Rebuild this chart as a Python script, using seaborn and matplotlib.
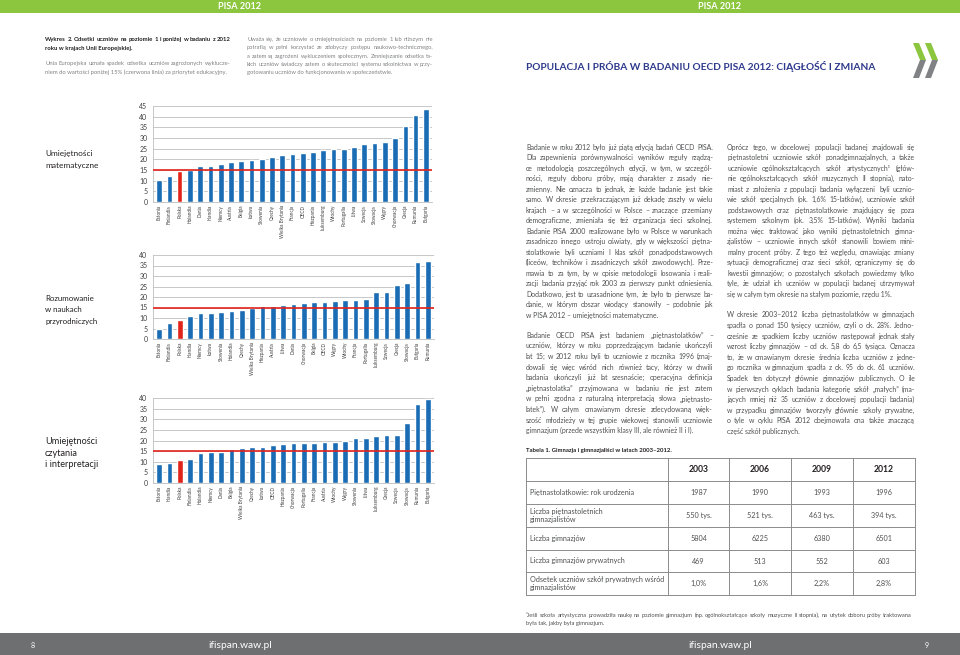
import matplotlib
matplotlib.use('Agg')
import matplotlib.pyplot as plt
import seaborn as sns
from matplotlib.patches import Rectangle, Polygon

# ---- data: share of students at level 1 and below (%) ----
math_countries = ['Estonia', 'Finlandia', 'Polska', 'Holandia', 'Dania', 'Irlandia', 'Niemcy',
                  'Austria', 'Belgia', 'Łotwa', 'Słowenia', 'Czechy', 'Wielka Brytania', 'Francja',
                  'OECD', 'Hiszpania', 'Luksemburg', 'Włochy', 'Portugalia', 'Litwa', 'Szwecja',
                  'Słowacja', 'Węgry', 'Chorwacja', 'Grecja', 'Rumunia', 'Bułgaria']
math_values = [10.5, 12.3, 14.4, 14.8, 16.9, 16.9, 17.7, 18.7, 19.0, 19.9, 20.1, 20.9, 21.8, 22.4,
               23.1, 23.6, 24.3, 24.7, 24.9, 26.0, 27.1, 27.5, 28.1, 29.9, 35.7, 40.8, 43.8]

science_countries = ['Estonia', 'Finlandia', 'Polska', 'Irlandia', 'Niemcy', 'Łotwa', 'Słowenia',
                     'Holandia', 'Czechy', 'Wielka Brytania', 'Hiszpania', 'Austria', 'Litwa', 'Dania',
                     'Chorwacja', 'Belgia', 'OECD', 'Węgry', 'Włochy', 'Francja', 'Portugalia',
                     'Luksemburg', 'Szwecja', 'Grecja', 'Słowacja', 'Bułgaria', 'Rumunia']
science_values = [5.0, 7.7, 9.0, 11.1, 12.2, 12.4, 12.9, 13.1, 13.8, 15.0, 15.7, 15.8, 16.1, 16.7,
                  17.3, 17.7, 17.8, 18.0, 18.7, 18.7, 19.0, 22.2, 22.2, 25.5, 26.7, 36.9, 37.3]

reading_countries = ['Estonia', 'Irlandia', 'Polska', 'Finlandia', 'Holandia', 'Niemcy', 'Dania',
                     'Belgia', 'Wielka Brytania', 'Czechy', 'Łotwa', 'OECD', 'Hiszpania', 'Chorwacja',
                     'Portugalia', 'Francja', 'Austria', 'Włochy', 'Węgry', 'Słowenia', 'Litwa',
                     'Luksemburg', 'Grecja', 'Szwecja', 'Słowacja', 'Rumunia', 'Bułgaria']
reading_values = [9.1, 9.6, 10.6, 11.3, 14.0, 14.5, 14.6, 16.1, 16.6, 16.9, 17.0, 18.0, 18.3, 18.7,
                  18.8, 18.9, 19.5, 19.5, 19.7, 21.1, 21.2, 22.2, 22.6, 22.7, 28.2, 37.3, 39.4]

target_level = 15

# ---- table 1 ----
table_years = ['2003', '2006', '2009', '2012']
table_rows = ['Piętnastolatkowie: rok urodzenia',
              'Liczba piętnastoletnich\ngimnazjalistów',
              'Liczba gimnazjów',
              'Liczba gimnazjów prywatnych',
              'Odsetek uczniów szkół prywatnych wśród\ngimnazjalistów']
table_values = [['1987', '1990', '1993', '1996'],
                ['550 tys.', '521 tys.', '463 tys.', '394 tys.'],
                ['5804', '6225', '6380', '6501'],
                ['469', '513', '552', '603'],
                ['1,0%', '1,6%', '2,2%', '2,8%']]

# ---- texts ----
chart_title = ['Wykres 2. Odsetki uczniów na poziomie 1 i poniżej w badaniu z 2012',
               'roku w krajach Unii Europejskiej.']
chart_note = ['Unia Europejska uznała spadek odsetka uczniów zagrożonych wyklucze-',
              'niem do wartości poniżej 15% (czerwona linia) za priorytet edukacyjny.']
chart_comment = ['Uważa się, że uczniowie o umiejętnościach na poziomie 1 lub niższym nie',
                 'potrafią w pełni korzystać ze zdobyczy postępu naukowo-technicznego,',
                 'a zatem są zagrożeni wykluczeniem społecznym. Zmniejszanie odsetka ta-',
                 'kich uczniów świadczy zatem o skuteczności systemu szkolnictwa w przy-',
                 'gotowaniu uczniów do funkcjonowania w społeczeństwie.']

col1_par1 = ['Badanie w roku 2012 było już piątą edycją badań OECD PISA.',
             'Dla zapewnienia porównywalności wyników reguły rządzą-',
             'ce metodologią poszczególnych edycji, w tym, w szczegól-',
             'ności, reguły doboru próby, mają charakter z zasady nie-',
             'zmienny. Nie oznacza to jednak, że każde badanie jest takie',
             'samo. W okresie przekraczającym już dekadę zaszły w wielu',
             'krajach – a w szczególności w Polsce – znaczące przemiany',
             'demograficzne, zmieniała się też organizacja sieci szkolnej.',
             'Badanie PISA 2000 realizowane było w Polsce w warunkach',
             'zasadniczo innego ustroju oświaty, gdy w większości piętna-',
             'stolatkowie byli uczniami I klas szkół ponadpodstawowych',
             '(liceów, techników i zasadniczych szkół zawodowych). Prze-',
             'mawia to za tym, by w opisie metodologii losowania i reali-',
             'zacji badania przyjąć rok 2003 za pierwszy punkt odniesienia.',
             'Dodatkowo, jest to uzasadnione tym, że było to pierwsze ba-',
             'danie, w którym obszar wiodący stanowiły – podobnie jak',
             'w PISA 2012 – umiejętności matematyczne.']
col1_par2 = ['Badanie OECD PISA jest badaniem „piętnastolatków” –',
             'uczniów, którzy w roku poprzedzającym badanie ukończyli',
             'lat 15; w 2012 roku byli to uczniowie z rocznika 1996 (znaj-',
             'dowali się więc wśród nich również tacy, którzy w chwili',
             'badania ukończyli już lat szesnaście; operacyjna definicja',
             '„piętnastolatka” przyjmowana w badaniu nie jest zatem',
             'w pełni zgodna z naturalną interpretacją słowa „piętnasto-',
             'latek”). W całym omawianym okresie zdecydowaną więk-',
             'szość młodzieży w tej grupie wiekowej stanowili uczniowie',
             'gimnazjum (przede wszystkim klasy III, ale również II i I).']
col2_par1 = ['Oprócz tego, w docelowej populacji badanej znajdowali się',
             'piętnastoletni uczniowie szkół ponadgimnazjalnych, a także',
             'uczniowie ogólnokształcących szkół artystycznych¹ (głów-',
             'nie ogólnokształcących szkół muzycznych II stopnia), nato-',
             'miast z założenia z populacji badania wyłączeni byli ucznio-',
             'wie szkół specjalnych (ok. 1,6% 15-latków), uczniowie szkół',
             'podstawowych oraz piętnastolatkowie znajdujący się poza',
             'systemem szkolnym (ok. 3,5% 15-latków). Wyniki badania',
             'można więc traktować jako wyniki piętnastoletnich gimna-',
             'zjalistów – uczniowie innych szkół stanowili bowiem mini-',
             'malny procent próby. Z tego też względu, omawiając zmiany',
             'sytuacji demograficznej oraz sieci szkół, ograniczymy się do',
             'kwestii gimnazjów; o pozostałych szkołach powiedzmy tylko',
             'tyle, że udział ich uczniów w populacji badanej utrzymywał',
             'się w całym tym okresie na stałym poziomie, rzędu 1%.']
col2_par2 = ['W okresie 2003–2012 liczba piętnastolatków w gimnazjach',
             'spadła o ponad 150 tysięcy uczniów, czyli o ok. 28%. Jedno-',
             'cześnie ze spadkiem liczby uczniów następował jednak stały',
             'wzrost liczby gimnazjów – od ok. 5,8 do 6,5 tysiąca. Oznacza',
             'to, że w omawianym okresie średnia liczba uczniów z jedne-',
             'go rocznika w gimnazjum spadła z ok. 95 do ok. 61 uczniów.',
             'Spadek ten dotyczył głównie gimnazjów publicznych. O ile',
             'w pierwszych cyklach badania kategorię szkół „małych” (ma-',
             'jących mniej niż 35 uczniów z docelowej populacji badania)',
             'w przypadku gimnazjów tworzyły głównie szkoły prywatne,',
             'o tyle w cyklu PISA 2012 obejmowała ona także znaczącą',
             'część szkół publicznych.']
footnote = ['¹Jeśli szkoła artystyczna prowadziła naukę na poziomie gimnazjum (np. ogólnokształcące '
            'szkoły muzyczne II stopnia), na użytek doboru próby traktowana',
            'była tak, jakby była gimnazjum.']

BLUE = '#1a6cb4'
RED = '#e2231a'
GREEN = '#8cc63f'
FOOT = '#6d6f71'
TEXT = '#4f5052'

sns.set_theme(style='white')
plt.rcParams['font.family'] = ['Lato', 'DejaVu Sans']

W, H = 960, 655
fig = plt.figure(figsize=(9.6, 6.55), dpi=100)
fig.patch.set_facecolor('white')
renderer = fig.canvas.get_renderer()

# background axes in pixel coordinates (origin top-left)
bg = fig.add_axes([0, 0, 1, 1], zorder=0)
bg.set_xlim(0, W)
bg.set_ylim(H, 0)
bg.axis('off')


def text_width(s, **kw):
    t = bg.text(0, 0, s, **kw)
    w = t.get_window_extent(renderer).width
    t.remove()
    return w


def fit_size(lines, width, **kw):
    # largest font size (from a 10 pt probe) at which every line fits into width
    widest = max(text_width(s, fontsize=10, **kw) for s in lines)
    return 10 * width / widest


def justify(x, y, lines, width, step, **kw):
    # y is the visual middle of the first line; words sit on a common baseline
    base = 0.5 * kw['fontsize']
    for i, line in enumerate(lines):
        yy = y + i * step + base
        words = line.split(' ')
        if i == len(lines) - 1 or len(words) == 1:
            bg.text(x, yy, line, va='baseline', ha='left', **kw)
            continue
        ws = [text_width(w, **kw) for w in words]
        gap = (width - sum(ws)) / (len(words) - 1)
        cx = x
        for w, wd in zip(words, ws):
            bg.text(cx, yy, w, va='baseline', ha='left', **kw)
            cx += wd + gap


# top green band and footer band
bg.add_patch(Rectangle((0, 0), W, 13, color=GREEN, lw=0))
bg.add_patch(Rectangle((0, 633), W, 22, color=FOOT, lw=0))
for cx in (240, 720):
    bg.text(cx, 6.5, 'PISA 2012', color='white', fontsize=6.6, fontweight='bold', ha='center', va='center')
    bg.text(cx, 645, 'ifispan.waw.pl', color='white', fontsize=7.4, ha='center', va='center')
bg.text(33, 645, '8', color='white', fontsize=5, ha='center', va='center')
bg.text(927, 645, '9', color='white', fontsize=5, ha='center', va='center')

# chart header texts
fs = fit_size(chart_title[:1], 186, fontweight='bold')
justify(45, 39.3, chart_title, 186, 8.4, fontsize=fs, fontweight='bold', color='#231f20')
fs = fit_size(chart_note, 186)
justify(45, 63.3, chart_note, 186, 8.4, fontsize=fs, color='#808285')
fs = fit_size(chart_comment, 186)
justify(247, 39, chart_comment, 186, 8.3, fontsize=fs, color='#808285')

title = 'POPULACJA I PRÓBA W BADANIU OECD PISA 2012: CIĄGŁOŚĆ I ZMIANA'
fs = fit_size([title], 346, fontweight='bold')
bg.text(526, 67, title, color='#2e3a8c', fontsize=fs, fontweight='bold', ha='left', va='center')

# OECD chevrons
for ox in (913, 925):
    bg.add_patch(Polygon([(ox, 43), (ox + 6, 43), (ox + 13, 60), (ox + 7, 60)], closed=True,
                         color=GREEN, lw=0))
    bg.add_patch(Polygon([(ox + 7, 60), (ox + 13, 60), (ox + 6, 78), (ox, 78)], closed=True,
                         color='#808285', lw=0))

# body text, justified in two columns
fs = min(fit_size(col1_par1 + col1_par2, 187), fit_size(col2_par1 + col2_par2, 188))
body = dict(fontsize=fs, color=TEXT)
justify(526, 147.3, col1_par1, 187, 10.5, **body)
justify(526, 335.3, col1_par2, 187, 10.6, **body)
justify(727, 147.3, col2_par1, 188, 10.5, **body)
justify(727, 315, col2_par2, 188, 10.6, **body)

cap = 'Tabela 1. Gimnazja i gimnazjaliści w latach 2003–2012.'
bg.text(526, 450.7, cap, fontsize=fit_size([cap], 147, fontweight='bold'),
        fontweight='bold', color='#231f20', va='center')

# table grid
col_x = [526, 668, 729, 791, 853, 915]
row_y = [458, 481, 504, 527, 550, 572, 595]
for x in col_x:
    bg.plot([x, x], [row_y[0], row_y[-1]], color='#8a8c8e', lw=0.7)
for y in row_y:
    bg.plot([col_x[0], col_x[-1]], [y, y], color='#8a8c8e', lw=0.7)
for j, yr in enumerate(table_years):
    bg.text((col_x[j + 1] + col_x[j + 2]) / 2, (row_y[0] + row_y[1]) / 2, yr, fontsize=6.2,
            fontweight='bold', color='#231f20', ha='center', va='center')
tfs = fit_size(['Odsetek uczniów szkół prywatnych wśród'], 134)
for i, label in enumerate(table_rows):
    yc = (row_y[i + 1] + row_y[i + 2]) / 2
    bg.text(530, yc, label, fontsize=tfs, color=TEXT, ha='left', va='center', linespacing=1.3)
    for j, val in enumerate(table_values[i]):
        bg.text((col_x[j + 1] + col_x[j + 2]) / 2, yc, val, fontsize=tfs, color=TEXT,
                ha='center', va='center')

fs = fit_size(footnote[:1], 386)
justify(526, 614.5, footnote, 386, 8.5, fontsize=fs, color=TEXT)


def draw_chart(box, countries, values, ymax, label, label_y):
    x0, y0, x1, y1 = box
    ax = fig.add_axes([x0 / W, 1 - y1 / H, (x1 - x0) / W, (y1 - y0) / H], zorder=2)
    colors = {c: (RED if c == 'Polska' else BLUE) for c in countries}
    sns.barplot(x=countries, y=values, hue=countries, palette=colors, legend=False,
                width=0.55, saturation=1, ax=ax)
    ax.set_facecolor('none')
    ax.set_ylim(0, ymax)
    ax.set_yticks(range(0, ymax + 1, 5))
    ax.set_xlim(-0.6, len(countries) - 0.4)
    ax.yaxis.grid(True, color='#bcbec0', lw=0.6)
    ax.set_axisbelow(True)
    ax.axhline(target_level, color=RED, lw=1.2, zorder=3)
    for side in ('top', 'right'):
        ax.spines[side].set_visible(False)
    for side in ('left', 'bottom'):
        ax.spines[side].set_color('#bcbec0')
        ax.spines[side].set_linewidth(0.6)
    ax.tick_params(axis='y', labelsize=5, length=0, pad=4, colors='#414042')
    ax.tick_params(axis='x', labelsize=3.4, length=0, pad=2, colors='#414042', labelrotation=90)
    ax.set_xlabel('')
    ax.set_ylabel('')
    lfs = min(fit_size(label, 53), 7.2)
    for i, s in enumerate(label):
        bg.text(45, label_y + i * 11.5 + 0.5 * lfs, s, fontsize=lfs, color='#231f20', va='baseline')


draw_chart((153, 106, 432, 202), math_countries, math_values, 45,
           ['Umiejętności', 'matematyczne'], 153.5)
draw_chart((153, 255, 434, 339), science_countries, science_values, 40,
           ['Rozumowanie', 'w naukach', 'przyrodniczych'], 298)
draw_chart((153, 398, 434, 483), reading_countries, reading_values, 40,
           ['Umiejętności', 'czytania', 'i interpretacji'], 441)

fig.savefig('out.png', dpi=100)
